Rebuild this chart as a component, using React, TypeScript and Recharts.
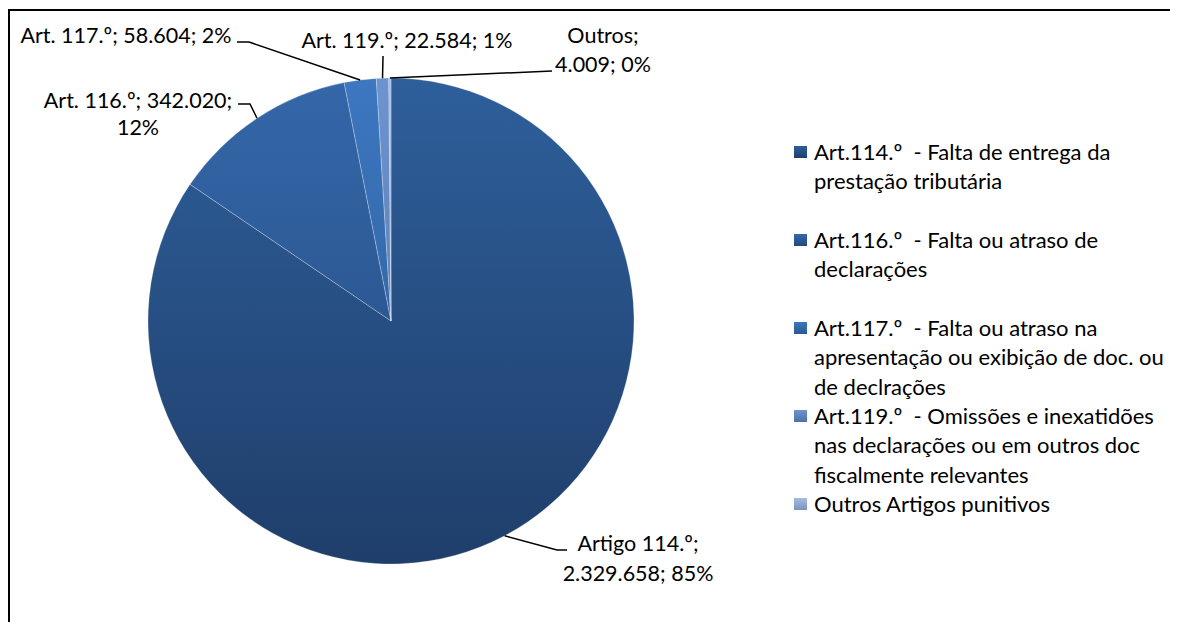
import React from 'react';
import { PieChart, Pie, Cell, Legend } from 'recharts';

// ---- data ----
const categories = ['Art.114.º', 'Art.116.º', 'Art.117.º', 'Art.119.º', 'Outros'];
const values = [2329658, 342020, 58604, 22584, 4009];
const labelNames = ['Artigo 114.º', 'Art. 116.º', 'Art. 117.º', 'Art. 119.º', 'Outros'];
const legendLines = [
  ['Art.114.º  - Falta de entrega da', 'prestação tributária'],
  ['Art.116.º  - Falta ou atraso de', 'declarações'],
  ['Art.117.º  - Falta ou atraso na', 'apresentação ou exibição de doc. ou', 'de declrações'],
  ['Art.119.º  - Omissões e inexatidões', 'nas declarações ou em outros doc', 'fiscalmente relevantes'],
  ['Outros Artigos punitivos'],
];

// ---- style / layout ----
const gradTop = ['#2e5f9b', '#3467a9', '#3c77c0', '#6d94d0', '#a6bce2'];
const gradBottom = ['#1f3e6a', '#244a7e', '#2c5893', '#4d70a6', '#7a93be'];
const FONT = 'Lato, "Noto Sans", sans-serif';
const FS = 21.5;
const LFS = 22;
const CX = 383;
const CY = 313;
const R = 243;

const LABEL_LAYOUT = [
  { path: [[549, 542], [559, 542]], x: 630, ys: [535, 565], split: 1 },
  { path: [[242, 96], [230, 96]], x: 130, ys: [92, 119], split: 2 },
  { path: [[241, 34], [229, 34]], x: 118, ys: [27], split: 3 },
  { path: [[375, 48]], x: 399, ys: [32], split: 3 },
  { path: [[544, 63]], x: 595, ys: [27, 56], split: 1 },
];
const LEGEND_LINE_START = [0, 3, 6, 9, 12];
const LEGEND_LH = 29.33;

const total = values.reduce((a, b) => a + b, 0);
const data = categories.map((c, i) => ({ name: c, value: values[i] }));

const fmt = (n: number) => String(n).replace(/\B(?=(\d{3})+(?!\d))/g, '.');

const renderLabel = (props: any) => {
  const { cx, cy, midAngle, outerRadius, index } = props;
  const RAD = Math.PI / 180;
  const sx = cx + outerRadius * Math.cos(-midAngle * RAD);
  const sy = cy + outerRadius * Math.sin(-midAngle * RAD);
  const L = LABEL_LAYOUT[index];
  const pts = [[sx, sy], ...L.path];
  const d = pts.map((p, i) => `${i ? 'L' : 'M'}${p[0]},${p[1]}`).join(' ');
  const pct = Math.round((values[index] / total) * 100);
  const parts = [labelNames[index], fmt(values[index]), `${pct}%`];
  const lines =
    L.split >= 3
      ? [parts.join('; ')]
      : [parts.slice(0, L.split).join('; ') + ';', parts.slice(L.split).join('; ')];
  return (
    <g key={`lab-${index}`}>
      <path d={d} stroke="#000" strokeWidth={1.5} fill="none" />
      {lines.map((t, i) => (
        <text
          key={i}
          x={L.x}
          y={L.ys[i]}
          textAnchor="middle"
          dominantBaseline="central"
          fontFamily={FONT}
          fontSize={FS}
          fill="#000"
        >
          {t}
        </text>
      ))}
    </g>
  );
};

const renderLegend = () => (
  <div style={{ position: 'relative', width: 384, height: 13 * LEGEND_LH, fontFamily: FONT, fontSize: LFS, color: '#000' }}>
    {legendLines.map((lines, i) => {
      const start = LEGEND_LINE_START[i];
      return (
        <React.Fragment key={i}>
          <div
            style={{
              position: 'absolute',
              left: 0,
              top: start * LEGEND_LH + LEGEND_LH / 2 - 6,
              width: 13,
              height: 12,
              background: `linear-gradient(${gradTop[i]}, ${gradBottom[i]})`,
            }}
          />
          {lines.map((t, j) => (
            <div
              key={j}
              style={{
                position: 'absolute',
                left: 20,
                top: (start + j) * LEGEND_LH,
                height: LEGEND_LH,
                lineHeight: `${LEGEND_LH}px`,
                whiteSpace: 'pre',
              }}
            >
              {t}
            </div>
          ))}
        </React.Fragment>
      );
    })}
  </div>
);

export default function App() {
  return (
    <div style={{ position: 'relative', width: 1170, height: 614, background: '#fff' }}>
      <PieChart width={1170} height={614} margin={{ top: 0, right: 0, bottom: 0, left: 0 }}>
        <defs>
          {gradTop.map((c, i) => (
            <linearGradient key={i} id={`pg${i}`} gradientUnits="userSpaceOnUse" x1={0} y1={CY - R} x2={0} y2={CY + R}>
              <stop offset="0%" stopColor={c} />
              <stop offset="100%" stopColor={gradBottom[i]} />
            </linearGradient>
          ))}
        </defs>
        <Pie
          data={data}
          dataKey="value"
          nameKey="name"
          cx={CX}
          cy={CY}
          outerRadius={R}
          startAngle={90}
          endAngle={-270}
          stroke="rgba(255,255,255,0.35)"
          strokeWidth={0.75}
          label={renderLabel}
          labelLine={false}
          isAnimationActive={false}
        >
          {data.map((_, i) => (
            <Cell key={i} fill={`url(#pg${i})`} />
          ))}
        </Pie>
        <Legend
          content={renderLegend}
          wrapperStyle={{ position: 'absolute', left: 786, top: 129, width: 384 }}
        />
      </PieChart>
      <div
        style={{
          position: 'absolute',
          left: 0,
          top: 1,
          width: 1170,
          height: 613,
          borderLeft: '2px solid #000',
          borderTop: '2px solid #000',
          boxSizing: 'border-box',
          pointerEvents: 'none',
        }}
      />
    </div>
  );
}
